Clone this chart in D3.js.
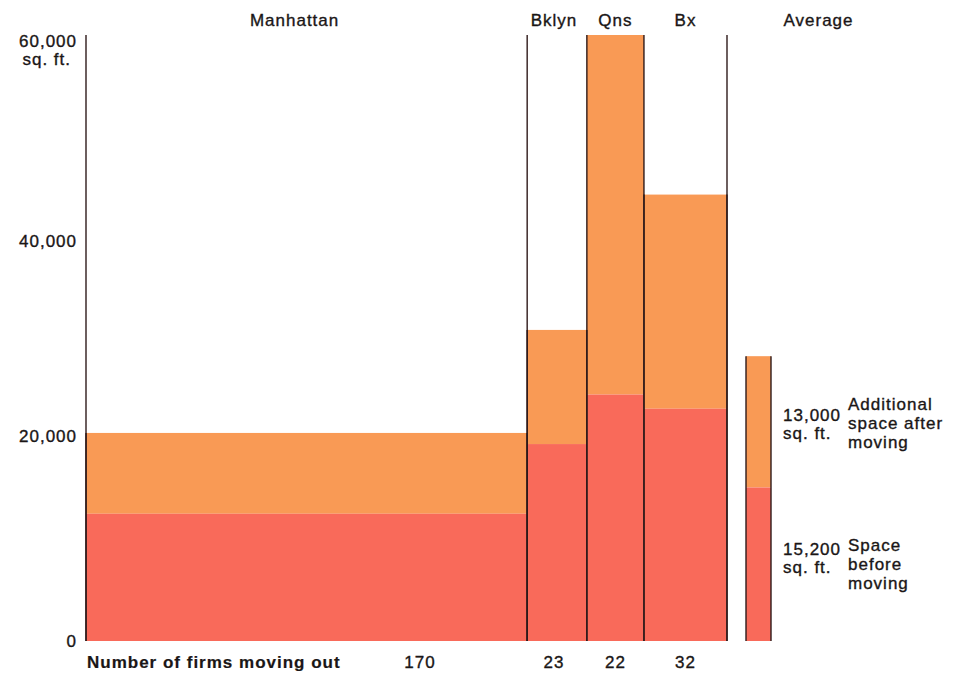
<!DOCTYPE html>
<html>
<head>
<meta charset="utf-8">
<script src="https://cdn.jsdelivr.net/npm/d3@7"></script>
<style>
  html, body { margin: 0; padding: 0; background: #ffffff; }
  svg text { font-family: "Liberation Sans", Arial, Helvetica, sans-serif; fill: #1a1616; stroke: #1a1616; stroke-width: 0.35px; letter-spacing: 1px; }
  svg text.bold { stroke-width: 0.2px; }
</style>
</head>
<body>
<svg id="chart" width="973" height="680"></svg>
<script>
// ---- data ----
const boroughs = ["Manhattan", "Bklyn", "Qns", "Bx"];
const firms = [170, 23, 22, 32];
const spaceBefore = [12600, 19500, 24400, 23000];
const spaceAfter = [20600, 30800, 60000, 44200];
const averageBefore = 15200;
const averageAdditional = 13000;
const yTicks = [0, 20000, 40000, 60000];
const yTickLabels = ["0", "20,000", "40,000", "60,000"];
const firmsLabel = "Number of firms moving out";
const additionalLabel = ["Additional", "space after", "moving"];
const beforeLabel = ["Space", "before", "moving"];

// ---- layout ----
const plotLeft = 86, plotBase = 641, plotTop = 35;
const totalFirms = d3.sum(firms);
const pxPerFirm = (727 - plotLeft) / totalFirms;
const avgGapFirms = 19 / pxPerFirm, avgWidthFirms = 25 / pxPerFirm;

const orange = "#f99a55", red = "#f96a5a", edge = "#2e1a1a";

const svg = d3.select("#chart");
const avgX0 = totalFirms + avgGapFirms, avgX1 = avgX0 + avgWidthFirms;
const x = d3.scaleLinear().domain([0, avgX1]).range([plotLeft, plotLeft + avgX1 * pxPerFirm]);
const y = d3.scaleLinear().domain([0, 60000]).range([plotBase, plotTop]);

const cum = [0];
firms.forEach((f, i) => cum.push(cum[i] + f));
const bars = boroughs.map((b, i) => ({
  name: b, x0: cum[i], x1: cum[i + 1], before: spaceBefore[i], after: spaceAfter[i]
}));

// additional (orange) segments
svg.append("g").selectAll("rect").data(bars).join("rect")
  .attr("x", d => x(d.x0)).attr("width", d => x(d.x1) - x(d.x0))
  .attr("y", d => y(d.after)).attr("height", d => y(d.before) - y(d.after))
  .attr("fill", orange);
// before (red) segments
svg.append("g").selectAll("rect").data(bars).join("rect")
  .attr("x", d => x(d.x0)).attr("width", d => x(d.x1) - x(d.x0))
  .attr("y", d => y(d.before)).attr("height", d => y(0) - y(d.before))
  .attr("fill", red);

// average bar
svg.append("rect").attr("x", x(avgX0)).attr("width", x(avgX1) - x(avgX0))
  .attr("y", y(averageBefore + averageAdditional))
  .attr("height", y(averageBefore) - y(averageBefore + averageAdditional))
  .attr("fill", orange);
svg.append("rect").attr("x", x(avgX0)).attr("width", x(avgX1) - x(avgX0))
  .attr("y", y(averageBefore)).attr("height", y(0) - y(averageBefore))
  .attr("fill", red);

// edges of bars
const edges = svg.append("g").attr("stroke", edge).attr("stroke-width", 1.4);
bars.forEach(d => {
  [d.x0, d.x1].forEach(v => {
    edges.append("line").attr("x1", x(v)).attr("x2", x(v)).attr("y1", y(d.after)).attr("y2", y(0));
  });
});
// full-height frame lines: axis, Manhattan/Brooklyn divider, right of Bronx
[0, cum[1], totalFirms].forEach(v => {
  edges.append("line").attr("x1", x(v)).attr("x2", x(v)).attr("y1", y(60000)).attr("y2", y(0));
});
[avgX0, avgX1].forEach(v => {
  edges.append("line").attr("x1", x(v)).attr("x2", x(v))
    .attr("y1", y(averageBefore + averageAdditional)).attr("y2", y(0));
});

// y axis labels
const yg = svg.append("g").attr("font-size", 17).attr("text-anchor", "end");
yTicks.forEach((t, i) => {
  const off = [0, -3, 4, 6][i];
  yg.append("text").attr("x", 77).attr("y", y(t) + off).attr("dy", "0.35em").text(yTickLabels[i]);
});
yg.append("text").attr("x", 71).attr("y", y(60000) + 24).attr("dy", "0.35em").text("sq. ft.");

// borough titles
const tg = svg.append("g").attr("font-size", 17).attr("text-anchor", "middle");
bars.forEach(d => {
  tg.append("text").attr("x", (x(d.x0) + x(d.x1)) / 2 + (d.name === "Manhattan" ? -12 : (d.name === "Bklyn" ? -3 : 0)))
    .attr("y", 26).text(d.name);
});
tg.append("text").attr("x", (x(avgX0) + x(avgX1)) / 2 + 60).attr("y", 26).text("Average");

// firms counts
const bg = svg.append("g").attr("font-size", 17);
bg.append("text").attr("class", "bold").attr("x", 87).attr("y", 668).attr("font-weight", "bold").text(firmsLabel);
bars.forEach((d, i) => {
  const cx = i === 0 ? 420 : (x(d.x0) + x(d.x1)) / 2 - (i === 1 ? 3 : 0);
  bg.append("text").attr("x", cx).attr("y", 668).attr("text-anchor", "middle").text(firms[i]);
});

// right annotations
const rg = svg.append("g").attr("font-size", 17);
const numX = 783, txtX = 848;
rg.append("text").attr("x", numX).attr("y", 421).text(d3.format(",")(averageAdditional));
rg.append("text").attr("x", numX).attr("y", 439).text("sq. ft.");
additionalLabel.forEach((s, i) => rg.append("text").attr("x", txtX).attr("y", 410 + i * 19).text(s));
rg.append("text").attr("x", numX).attr("y", 555).text(d3.format(",")(averageBefore));
rg.append("text").attr("x", numX).attr("y", 573).text("sq. ft.");
beforeLabel.forEach((s, i) => rg.append("text").attr("x", txtX).attr("y", 551 + i * 19).text(s));
</script>
</body>
</html>
